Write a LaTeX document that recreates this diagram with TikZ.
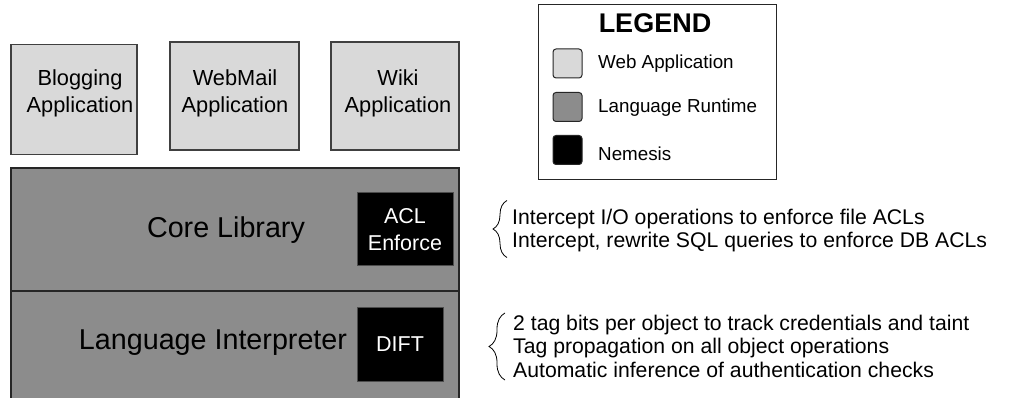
\documentclass[tikz,border=0pt]{standalone}
\usepackage{fontspec}
\setmainfont{Liberation Sans}
\usetikzlibrary{decorations.pathreplacing}
\definecolor{webgray}{HTML}{D9D9D9}
\definecolor{rtgray}{HTML}{8C8C8C}
\tikzset{
  appbox/.style={draw=black!75, line width=1.2pt, fill=webgray, inner sep=0pt},
  apptext/.style={align=center, font=\fontsize{21.8}{27}\selectfont, inner sep=0pt},
  layerbox/.style={draw=black!85, line width=1.2pt, fill=rtgray, inner sep=0pt},
  nembox/.style={fill=black, text=white, draw=black!70, line width=1pt, align=center, font=\fontsize{21.5}{27}\selectfont, inner sep=0pt},
  bigtext/.style={font=\fontsize{28.7}{32}\selectfont},
  swatch/.style={draw=black!85, line width=1pt, rounded corners=3pt, minimum width=29pt, minimum height=29pt, inner sep=0pt},
  legtext/.style={anchor=west, font=\fontsize{18.8}{22}\selectfont, inner sep=0pt},
  note/.style={anchor=west, align=left, inner sep=0pt, font=\fontsize{21.2}{23.5}\selectfont},
  bracestyle/.style={decorate, line width=0.8pt}
}
\begin{document}
\begin{tikzpicture}[x=1pt,y=-1pt]
\useasboundingbox (0,0) rectangle (1018,398);
\clip (0,0) rectangle (1018,398);
% application boxes
\node[appbox, minimum width=126pt, minimum height=110pt] (blog) at (74,99.5) {};
\node[appbox, minimum width=129pt, minimum height=108pt] (mail) at (234.5,96) {};
\node[appbox, minimum width=128pt, minimum height=108pt] (wiki) at (395,96) {};
\node[apptext] (blogtxt) at (80,93) {Blogging\\Application};
\node[apptext] (mailtxt) at (235,93) {WebMail\\Application};
\node[apptext] (wikitxt) at (398,93) {Wiki\\Application};
% runtime layers
\node[layerbox, minimum width=448pt, minimum height=123pt] (core) at (235,229.5) {};
\node[layerbox, minimum width=448pt, minimum height=115pt] (interp) at (235,348.5) {};
\node[bigtext] (coretxt) at (226,230) {Core Library};
\node[bigtext] (interptxt) at (213,343) {Language Interpreter};
\node[nembox, minimum width=96pt, minimum height=73pt] (acl) at (405,229.5) {ACL\\Enforce};
\node[nembox, minimum width=86pt, minimum height=73pt] (dift) at (400,344.5) {DIFT};
% legend
\node[draw=black!85, line width=1pt, fill=white, minimum width=238pt, minimum height=175pt, inner sep=0pt] (legend) at (657,92.5) {};
\node[font=\fontsize{27}{30}\bfseries\selectfont] (legtitle) at (655,23.5) {LEGEND};
\node[swatch, fill=webgray] (sw1) at (567.5,63.5) {};
\node[swatch, fill=rtgray] (sw2) at (567.5,107) {};
\node[swatch, fill=black] (sw3) at (567.5,150) {};
\node[legtext] (l1) at (598,64) {Web Application};
\node[legtext] (l2) at (598,108) {Language Runtime};
\node[legtext] (l3) at (598,154) {Nemesis};
% notes
\node[note] (n1) at (512,230.5) {Intercept I/O operations to enforce file ACLs\\Intercept, rewrite SQL queries to enforce DB ACLs};
\node[note] (n2) at (513,346) {2 tag bits per object to track credentials and taint\\Tag propagation on all object operations\\Automatic inference of authentication checks};
\draw[bracestyle, decoration={brace, amplitude=14pt}] ([shift={(-5,27)}]n1.west) -- ([shift={(-5,-30)}]n1.west);
\draw[bracestyle, decoration={brace, amplitude=16pt}] ([shift={(-8,34)}]n2.west) -- ([shift={(-8,-33)}]n2.west);
\end{tikzpicture}
\end{document}
